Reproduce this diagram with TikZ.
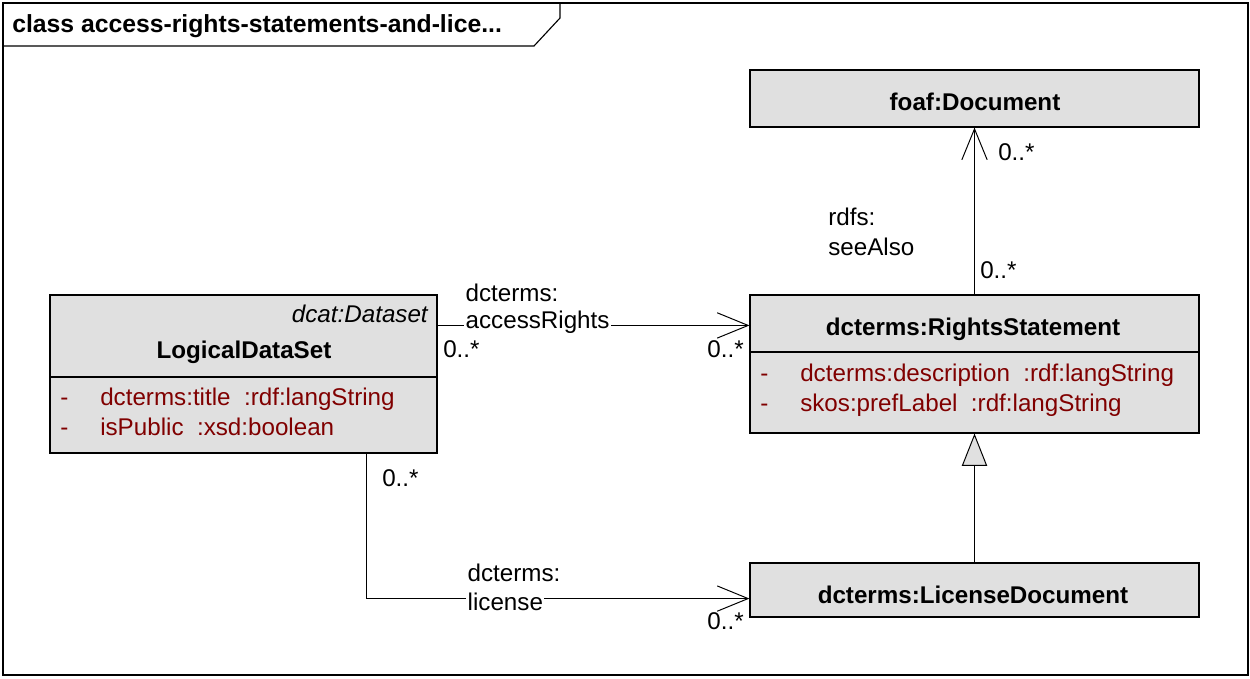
\documentclass[tikz,border=0pt]{standalone}
\usepackage{fontspec}
\setmainfont{Liberation Sans}
\usepackage{xcolor}
\usetikzlibrary{arrows.meta,calc,fit,positioning}
\definecolor{boxgray}{RGB}{224,224,224}
\definecolor{attrred}{RGB}{128,0,0}
\newcommand{\umlfont}{\fontsize{17.2}{20}\selectfont}
\tikzset{
  classbox/.style={draw=black, fill=boxgray, inner sep=0pt, line width=0.8pt},
  txt/.style={inner sep=0pt, font=\umlfont},
  attr/.style={txt, anchor=base west, text=attrred},
  role/.style={txt, anchor=base west, fill=white, inner sep=1pt},
  assoc/.style={line width=0.7pt, -{Straight Barb[length=22pt,width=18pt]}},
  genl/.style={line width=0.7pt, -{Triangle[length=23pt,width=18pt,fill=boxgray]}}
}

\begin{document}
\begin{tikzpicture}[x=0.025cm,y=-0.025cm]
\useasboundingbox (0,0) rectangle (1250,678);
% frame and tab
\draw [line width=0.8pt] (3,3) rectangle (1248,675);
\draw [line width=0.8pt] (3,46) -- (534,46) -- (560,18) -- (560,3);
\node [txt, anchor=base west, font=\fontsize{17.6}{20}\selectfont\bfseries] (title) at (12,32) {class access-rights-statements-and-lice...};

% classes
\node [classbox, fit={(50,295) (437,453)}] (lds) {};
\draw [line width=0.8pt] (50,377) -- (437,377);
\node [txt, anchor=base east] (ldsst) at (428,322) {\itshape dcat:Dataset};
\node [txt, anchor=base, font=\umlfont\bfseries] (ldsname) at (244,358) {LogicalDataSet};
\node [attr] (ldsm1) at (60,405) {-};
\node [attr] (ldsa1) at (100,405) {dcterms:title~~:rdf:langString};
\node [attr] (ldsm2) at (60,435) {-};
\node [attr] (ldsa2) at (100,435) {isPublic~~:xsd:boolean};

\node [classbox, fit={(750,70) (1199,127)}] (foaf) {};
\node [txt, anchor=base, font=\umlfont\bfseries] (foafname) at (975,110) {foaf:Document};

\node [classbox, fit={(750,295) (1199,433)}] (rs) {};
\draw [line width=0.8pt] (750,352) -- (1199,352);
\node [txt, anchor=base, font=\umlfont\bfseries] (rsname) at (973,335) {dcterms:RightsStatement};
\node [attr] (rsm1) at (760,381) {-};
\node [attr] (rsa1) at (800,381) {dcterms:description~~:rdf:langString};
\node [attr] (rsm2) at (760,411) {-};
\node [attr] (rsa2) at (800,411) {skos:prefLabel~~:rdf:langString};

\node [classbox, fit={(750,563) (1199,617)}] (lic) {};
\node [txt, anchor=base, font=\umlfont\bfseries] (licname) at (973,603) {dcterms:LicenseDocument};

% connectors
\draw [assoc] ($(lds.north east)+(0,31)$) -- ($(rs.north west)+(0,31)$);
\draw [assoc] ($(lds.south west)+(317,0)$) |- ($(lic.south west)+(0,-19)$);
\draw [assoc] (rs.north) -- (foaf.south);
\draw [genl] (lic.north) -- (rs.south);

% role names and multiplicities
\node [role] (arole1) at (464,301) {dcterms:};
\node [role] (arole2) at (464,328) {accessRights};
\node [txt, anchor=base west] (amul1) at (443,357) {0..*};
\node [txt, anchor=base east] (amul2) at (744,357) {0..*};

\node [role] (lrole1) at (466,581) {dcterms:};
\node [role] (lrole2) at (466,610) {license};
\node [txt, anchor=base west] (lmul1) at (382,486) {0..*};
\node [txt, anchor=base east] (lmul2) at (744,629) {0..*};

\node [txt, anchor=base west] (srole1) at (828,225) {rdfs:};
\node [txt, anchor=base west] (srole2) at (828,255) {seeAlso};
\node [txt, anchor=base west] (smul1) at (998,160) {0..*};
\node [txt, anchor=base west] (smul2) at (980,278) {0..*};
\end{tikzpicture}
\end{document}
